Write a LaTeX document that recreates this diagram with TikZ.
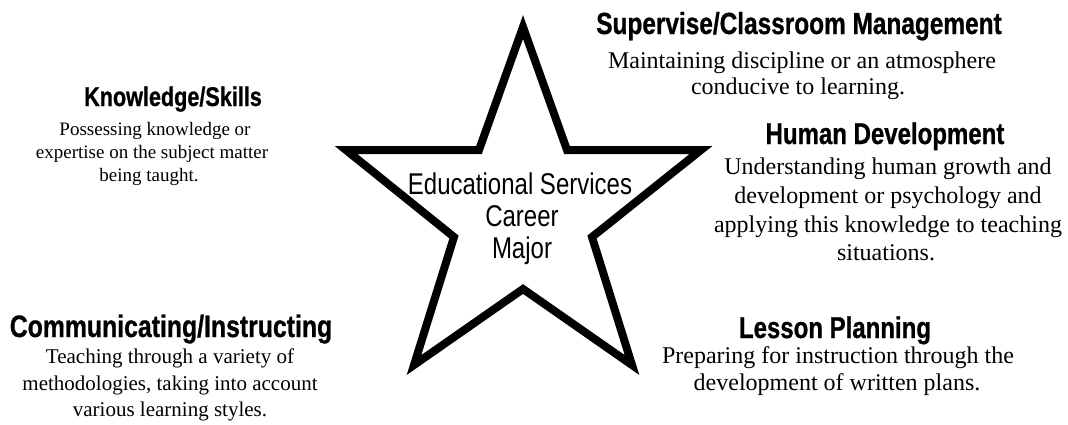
\documentclass[tikz,border=0pt]{standalone}
\usepackage{fontspec}
\setmainfont{Liberation Serif}
\newfontfamily\headfont{Liberation Sans}[FakeStretch=0.8, BoldFeatures={FakeBold=0.8}]
\begin{document}
\begin{tikzpicture}[x=1pt,y=-1pt,
  head/.style={font=\headfont\bfseries\fontsize{30}{30}\selectfont, anchor=base, inner sep=0pt},
  headsm/.style={font=\headfont\bfseries\fontsize{27}{27}\selectfont, anchor=base, inner sep=0pt},
  body/.style={font=\fontsize{24}{24}\selectfont, anchor=base, inner sep=0pt},
  bodysm/.style={font=\fontsize{19}{19}\selectfont, anchor=base, inner sep=0pt},
  bodymd/.style={font=\fontsize{21}{21}\selectfont, anchor=base, inner sep=0pt},
  ctr/.style={font=\headfont\fontsize{30}{30}\selectfont, anchor=base, inner sep=0pt},
  starline/.style={line width=8pt, line join=miter, draw=black}]
\useasboundingbox (0,0) rectangle (1068,424);
% star
\coordinate (t) at (523,27);
\coordinate (iul) at (479,150);
\coordinate (l) at (346,150);
\coordinate (il) at (454,237);
\coordinate (bl) at (414,365);
\coordinate (ib) at (523,289);
\coordinate (br) at (632,365);
\coordinate (ir) at (592,237);
\coordinate (r) at (701,150);
\coordinate (iur) at (567,150);
\draw[starline] (t) -- (iul) -- (l) -- (il) -- (bl) -- (ib) -- (br) -- (ir) -- (r) -- (iur) -- cycle;
% centre
\node[ctr] (c1) at (520,194) {Educational Services};
\node[ctr] (c2) at (522,226) {Career};
\node[ctr] (c3) at (522,258) {Major};
% supervise
\node[head,font=\headfont\bfseries\fontsize{30.5}{30.5}\selectfont] (sh) at (799,34) {Supervise/Classroom Management};
\node[body] (s1) at (802,68) {Maintaining discipline or an atmosphere};
\node[body] (s2) at (798,94) {conducive to learning.};
% human development
\node[head] (hh) at (885,144) {Human Development};
\node[body] (h1) at (888,174) {Understanding human growth and};
\node[body] (h2) at (888,203) {development or psychology and};
\node[body] (h3) at (888,232) {applying this knowledge to teaching};
\node[body] (h4) at (886,260) {situations.};
% lesson planning
\node[head] (lh) at (835,338) {Lesson Planning};
\node[body] (l1) at (838,363) {Preparing for instruction through the};
\node[body] (l2) at (837,390) {development of written plans.};
% knowledge
\node[headsm] (kh) at (173,106) {Knowledge/Skills};
\node[bodysm] (k1) at (155,135) {Possessing knowledge or};
\node[bodysm] (k2) at (152,158) {expertise on the subject matter};
\node[bodysm] (k3) at (149,181) {being taught.};
% communicating
\node[head,font=\headfont\bfseries\fontsize{31}{31}\selectfont] (ch) at (171,337) {Communicating/Instructing};
\node[bodymd] (m1) at (170,363) {Teaching through a variety of};
\node[bodymd] (m2) at (170,390) {methodologies, taking into account};
\node[bodymd] (m3) at (170,416) {various learning styles.};
\end{tikzpicture}
\end{document}
